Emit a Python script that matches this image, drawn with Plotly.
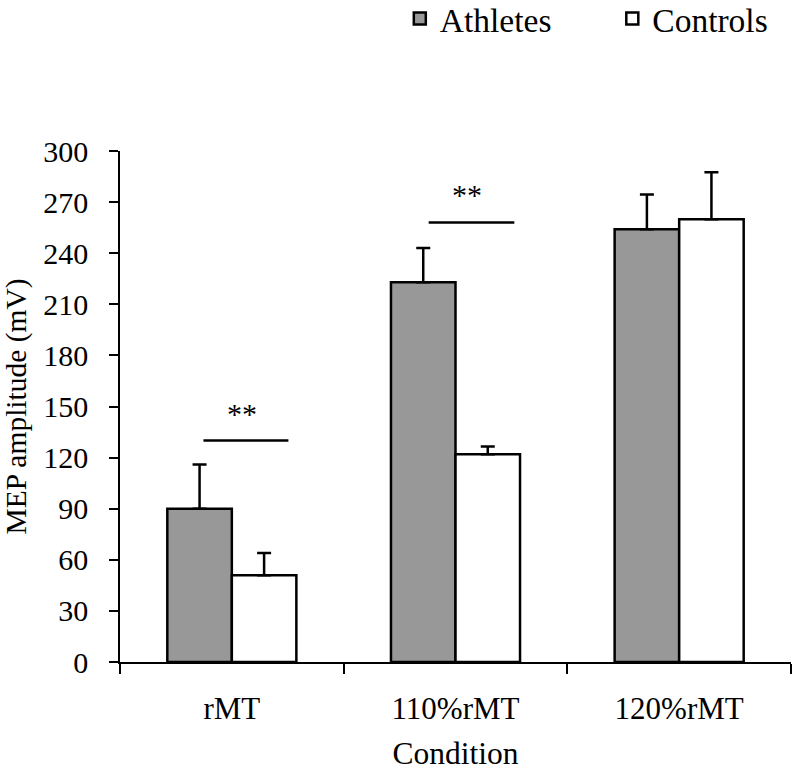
import plotly.graph_objects as go

categories = ["rMT", "110%rMT", "120%rMT"]
athletes = [90, 223, 254]
athletes_err = [26, 20, 20.5]
controls = [51, 122, 260]
controls_err = [13, 4.5, 27.5]
y_ticks = [0, 30, 60, 90, 120, 150, 180, 210, 240, 270, 300]

# significance markers: (x start, x end, line y, label x, label y)
sig_x0 = [-0.127, 0.88]
sig_x1 = [0.253, 1.263]
sig_y = [130, 258]
sig_label_x = [0.045, 1.053]
sig_label_y = [146, 274.5]

FONT = "Liberation Serif, Times New Roman, serif"

fig = go.Figure()
fig.add_trace(go.Bar(
    name="Athletes", x=categories, y=athletes,
    marker=dict(color="#989898", line=dict(color="black", width=2.5)),
    error_y=dict(type="data", array=athletes_err, arrayminus=[0, 0, 0], symmetric=False,
                 color="black", thickness=2.5, width=7),
))
fig.add_trace(go.Bar(
    name="Controls", x=categories, y=controls,
    marker=dict(color="white", line=dict(color="black", width=2.5)),
    error_y=dict(type="data", array=controls_err, arrayminus=[0, 0, 0], symmetric=False,
                 color="black", thickness=2.5, width=7),
))

for x0, x1, y in zip(sig_x0, sig_x1, sig_y):
    fig.add_shape(type="line", xref="x", yref="y", x0=x0, x1=x1, y0=y, y1=y,
                  line=dict(color="black", width=2.5))
for lx, ly in zip(sig_label_x, sig_label_y):
    fig.add_annotation(x=lx, y=ly, xref="x", yref="y", text="**", showarrow=False,
                       font=dict(family=FONT, size=30, color="black"))

fig.update_layout(
    width=792, height=771,
    margin=dict(l=120, r=1, t=151, b=109, autoexpand=False),
    paper_bgcolor="white", plot_bgcolor="white",
    barmode="group", bargap=0.423, bargroupgap=0,
    font=dict(family=FONT, size=30, color="black"),
    showlegend=True,
    legend=dict(orientation="h", x=0.417, xanchor="left", y=1.3147, yanchor="top",
                font=dict(family=FONT, size=33.5, color="black"),
                entrywidth=167.5, bgcolor="rgba(0,0,0,0)"),
)
fig.update_xaxes(
    automargin=False,
    showline=True, linecolor="black", linewidth=1.5,
    ticks="outside", tickson="boundaries", ticklen=10, tickwidth=1.5, tickcolor="black",
    ticklabelstandoff=18,
    title=dict(text="Condition", font=dict(family=FONT, size=31.5), standoff=17),
    tickfont=dict(family=FONT, size=31), showgrid=False,
    range=[-0.5, 2.5],
)
fig.update_yaxes(
    automargin=False,
    range=[0, 300], tickvals=y_ticks, showline=True, linecolor="black", linewidth=1.5,
    ticks="outside", ticklen=9, tickwidth=1.5, tickcolor="black",
    ticklabelstandoff=15,
    title=dict(text="MEP amplitude (mV)", font=dict(family=FONT, size=29.5), standoff=12),
    tickfont=dict(family=FONT, size=30), showgrid=False, zeroline=False,
)

fig.write_html("out.html", config={"displayModeBar": False},
               post_script="document.body.style.margin='0px';")
